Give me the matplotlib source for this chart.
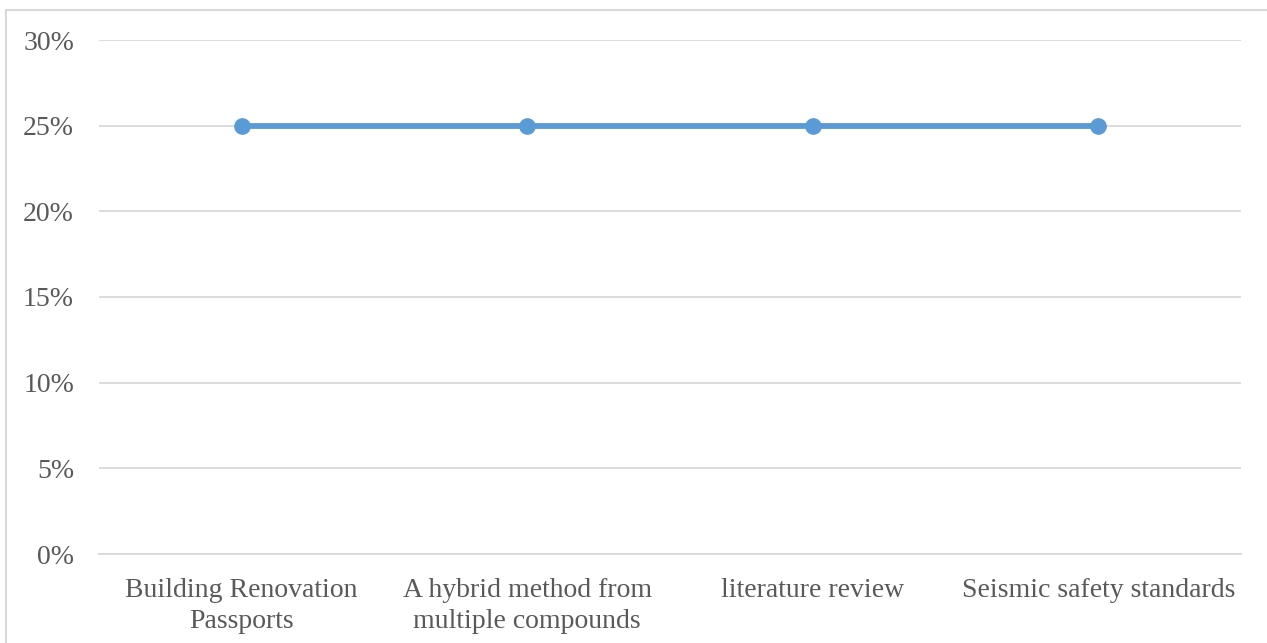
import matplotlib
matplotlib.use("Agg")
import matplotlib.pyplot as plt
from matplotlib.lines import Line2D
from matplotlib.ticker import FuncFormatter

categories = ["Building Renovation\nPassports", "A hybrid method from\nmultiple compounds",
              "literature review", "Seismic safety standards"]
values = [0.25, 0.25, 0.25, 0.25]
yticks = [0, 0.05, 0.10, 0.15, 0.20, 0.25, 0.30]

W, H = 1267, 643
fig = plt.figure(figsize=(W / 100, H / 100), dpi=100)
plt.rcParams['font.family'] = ['Liberation Serif', 'DejaVu Serif']

left, right, top, bottom = 99, 1241, 40, 554
ax = fig.add_axes([left / W, 1 - bottom / H, (right - left) / W, (bottom - top) / H])

x = list(range(len(categories)))
ax.plot(x, values, color="#5B9BD5", linewidth=4.2, marker="o", markersize=11,
        markerfacecolor="#5B9BD5", markeredgecolor="#5B9BD5", solid_capstyle="butt", zorder=3)

ax.set_xlim(-0.5, len(categories) - 0.5)
ax.set_ylim(0, 0.30)
ax.set_yticks(yticks)
ax.yaxis.set_major_formatter(FuncFormatter(lambda v, p: f"{round(v * 100)}%"))
ax.set_xticks(x)
ax.set_xticklabels(categories, linespacing=1.35)
ax.grid(axis="y", color="#D9D9D9", linewidth=1.3)
ax.set_axisbelow(True)
for s in ["left", "right", "top"]:
    ax.spines[s].set_visible(False)
ax.spines["bottom"].set_color("#D9D9D9")
ax.spines["bottom"].set_linewidth(1.3)
ax.tick_params(axis="both", length=0, labelsize=20, colors="#595959")
ax.tick_params(axis="y", pad=18)
ax.tick_params(axis="x", pad=17)

# chart border
fig.add_artist(Line2D([6 / W, 6 / W], [0, 1 - 10 / H], transform=fig.transFigure,
                      color="#D9D9D9", linewidth=1.5))
fig.add_artist(Line2D([6 / W, 1], [1 - 10 / H, 1 - 10 / H], transform=fig.transFigure,
                      color="#D9D9D9", linewidth=1.5))

fig.savefig("out.png", dpi=100)
